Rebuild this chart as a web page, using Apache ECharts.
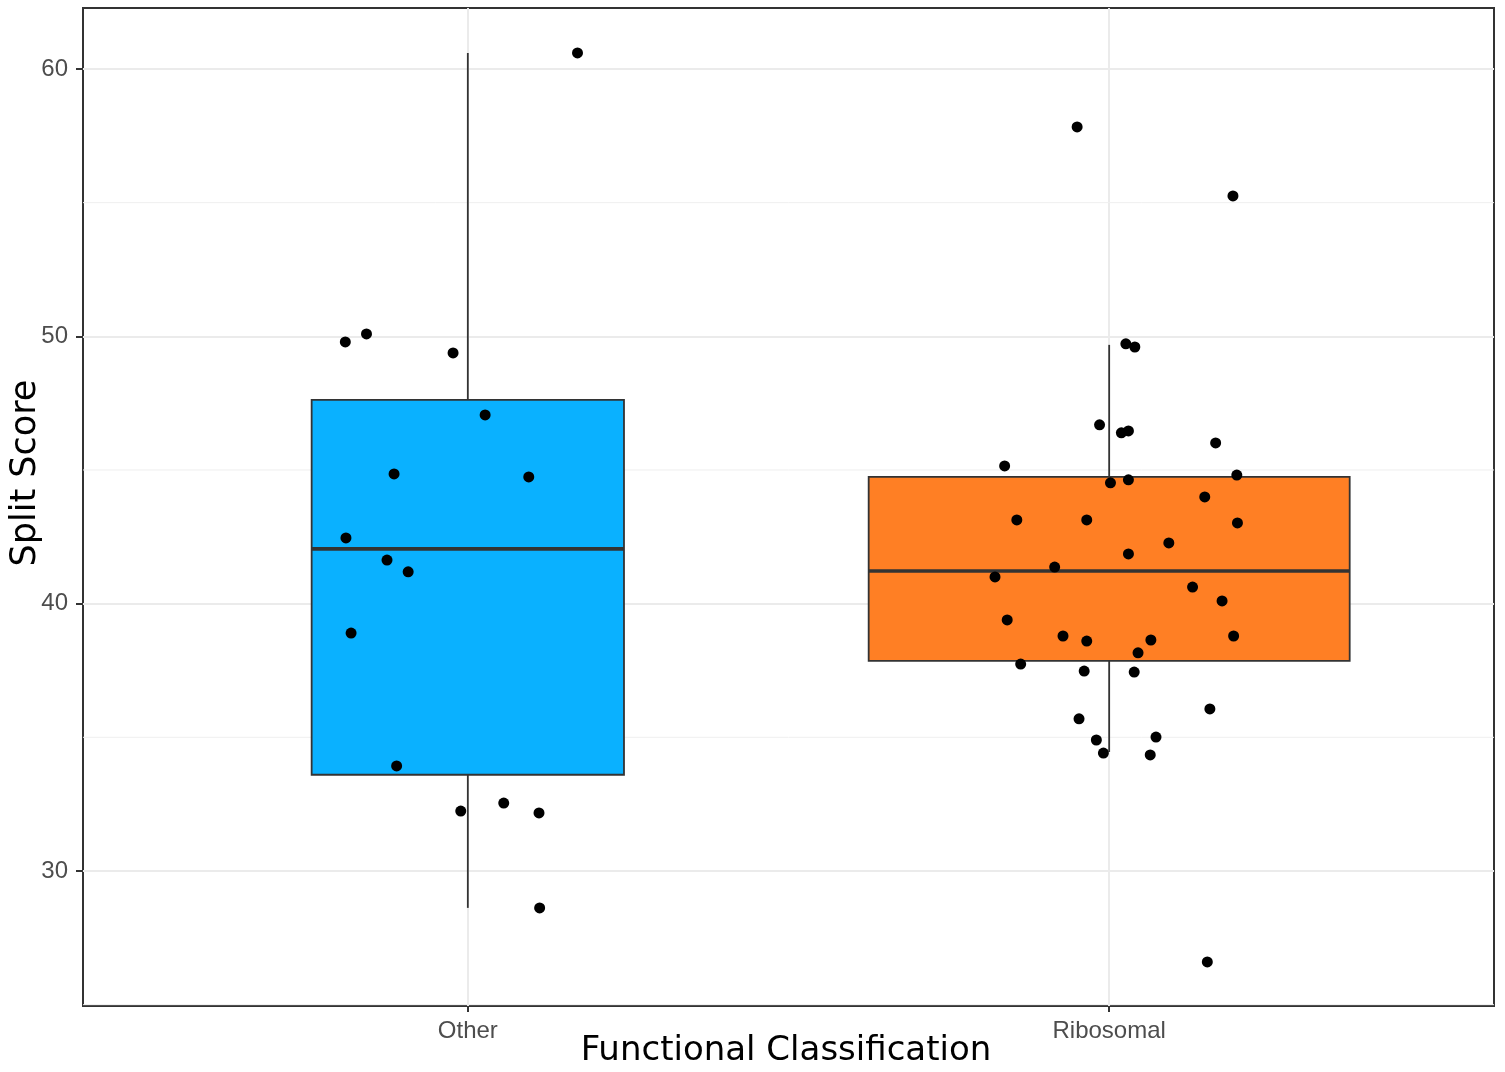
<!DOCTYPE html>
<html>
<head>
<meta charset="utf-8">
<script src="https://cdn.jsdelivr.net/npm/echarts@6/dist/echarts.min.js"></script>
<style>
  html, body { margin: 0; padding: 0; background: #fff; }
  #chart { width: 1505px; height: 1072px; }
</style>
</head>
<body>
<div id="chart"></div>
<script>
// categories and their positions on the discrete axis
const categories = ['Other', 'Ribosomal'];
const boxColors = ['#0AB1FF', '#FF7F24'];
// box widths scale with sqrt(n) (varwidth)
const boxWidths = [0.487, 0.75];

// box stats: [low whisker, Q1, median, Q3, high whisker]
const boxStats = [
    [28.62, 33.6, 42.05, 47.62, 60.6],
    [34.45, 37.86, 41.22, 44.74, 49.68]
];

// jittered points: [x position, split score]
const otherPoints = [
    [1.171, 60.6], [0.809, 49.79], [0.842, 50.09], [0.977, 49.38],
    [1.027, 47.06], [0.885, 44.85], [1.095, 44.74], [0.810, 42.46],
    [0.874, 41.63], [0.907, 41.19], [0.818, 38.90], [0.889, 33.93],
    [0.989, 32.24], [1.056, 32.54], [1.111, 32.17], [1.112, 28.62]
];
const riboPoints = [
    [1.950, 57.83], [2.193, 55.25], [2.026, 49.72], [2.040, 49.60],
    [1.985, 46.69], [2.019, 46.39], [2.030, 46.46], [2.166, 46.01],
    [1.837, 45.15], [2.199, 44.81], [2.002, 44.52], [2.030, 44.63],
    [2.149, 43.99], [1.856, 43.13], [1.965, 43.13], [2.200, 43.02],
    [2.093, 42.27], [2.030, 41.86], [1.915, 41.37], [1.822, 41.00],
    [2.130, 40.62], [2.176, 40.10], [1.841, 39.39], [1.928, 38.79],
    [1.965, 38.60], [2.065, 38.64], [2.194, 38.79], [2.045, 38.16],
    [1.862, 37.74], [1.961, 37.48], [2.039, 37.44], [2.157, 36.06],
    [1.953, 35.69], [2.073, 35.01], [1.980, 34.90], [1.991, 34.41],
    [2.064, 34.34], [2.153, 26.60]
];

const yTicks = [30, 40, 50, 60];
const yMinor = [25, 35, 45, 55];

const chart = echarts.init(document.getElementById('chart'));

const boxData = boxStats.map((s, i) => [i + 1].concat(s));

const options = {
    animation: false,
    grid: {
        left: 83, top: 8, width: 1411, height: 998,
        show: true, borderColor: '#333333', borderWidth: 2,
        backgroundColor: 'transparent'
    },
    xAxis: {
        type: 'value',
        min: 0.4,
        max: 2.6,
        axisLine: { show: false },
        axisTick: {
            show: true, length: 6, customValues: [1, 2],
            lineStyle: { color: '#333333', width: 2 }
        },
        axisLabel: {
            customValues: [1, 2],
            formatter: (v) => categories[Math.round(v) - 1] || '',
            color: '#4D4D4D', fontSize: 24, fontFamily: 'Liberation Sans, Arial', margin: 13
        },
        splitLine: { show: true, lineStyle: { color: '#EBEBEB', width: 2 } }
    },
    yAxis: {
        type: 'value',
        min: 24.95,
        max: 62.28,
        axisLine: { show: false },
        axisTick: {
            show: true, length: 7, customValues: yTicks,
            lineStyle: { color: '#333333', width: 2 }
        },
        axisLabel: {
            customValues: yTicks,
            color: '#4D4D4D', fontSize: 24, fontFamily: 'Liberation Sans, Arial', margin: 15
        },
        splitLine: { show: true, lineStyle: { color: '#EBEBEB', width: 2 } }
    },
    series: [
        {
            // minor grid lines, drawn behind the boxes
            type: 'custom',
            data: yMinor.map(v => [1, v]),
            silent: true,
            z: 1,
            renderItem: (params, api) => {
                const y = api.coord([1, api.value(1)])[1];
                const cs = params.coordSys;
                return {
                    type: 'line',
                    shape: { x1: cs.x, y1: y, x2: cs.x + cs.width, y2: y },
                    style: { stroke: '#EFEFEF', lineWidth: 1 }
                };
            }
        },
        {
            type: 'custom',
            data: boxData,
            z: 2,
            renderItem: (params, api) => {
                const x = api.value(0);
                const low = api.coord([x, api.value(1)]);
                const q1 = api.coord([x, api.value(2)]);
                const med = api.coord([x, api.value(3)]);
                const q3 = api.coord([x, api.value(4)]);
                const high = api.coord([x, api.value(5)]);
                const idx = params.dataIndex;
                const half = api.size([boxWidths[idx], 0])[0] / 2;
                return {
                    type: 'group',
                    children: [
                        {
                            type: 'line',
                            shape: { x1: high[0], y1: high[1], x2: q3[0], y2: q3[1] },
                            style: { stroke: '#333333', lineWidth: 1.8 }
                        },
                        {
                            type: 'line',
                            shape: { x1: q1[0], y1: q1[1], x2: low[0], y2: low[1] },
                            style: { stroke: '#333333', lineWidth: 1.8 }
                        },
                        {
                            type: 'rect',
                            shape: { x: q3[0] - half, y: q3[1], width: half * 2, height: q1[1] - q3[1] },
                            style: { fill: boxColors[idx], stroke: '#333333', lineWidth: 1.8 }
                        },
                        {
                            type: 'line',
                            shape: { x1: med[0] - half, y1: med[1], x2: med[0] + half, y2: med[1] },
                            style: { stroke: '#333333', lineWidth: 3.6 }
                        }
                    ]
                };
            }
        },
        {
            type: 'scatter',
            data: otherPoints,
            symbolSize: 11,
            itemStyle: { color: '#000000', opacity: 1 },
            z: 3
        },
        {
            type: 'scatter',
            data: riboPoints,
            symbolSize: 11,
            itemStyle: { color: '#000000', opacity: 1 },
            z: 3
        }
    ],
    graphic: [
        {
            type: 'text',
            x: 786, y: 1051,
            style: {
                text: 'Functional Classification',
                font: '34px "DejaVu Sans"', fill: '#000000',
                align: 'center', verticalAlign: 'middle'
            }
        },
        {
            type: 'text',
            x: 26, y: 473,
            rotation: Math.PI / 2,
            style: {
                text: 'Split Score',
                font: '35px "DejaVu Sans"', fill: '#000000',
                align: 'center', verticalAlign: 'middle'
            }
        }
    ]
};

chart.setOption(options);
</script>
</body>
</html>
